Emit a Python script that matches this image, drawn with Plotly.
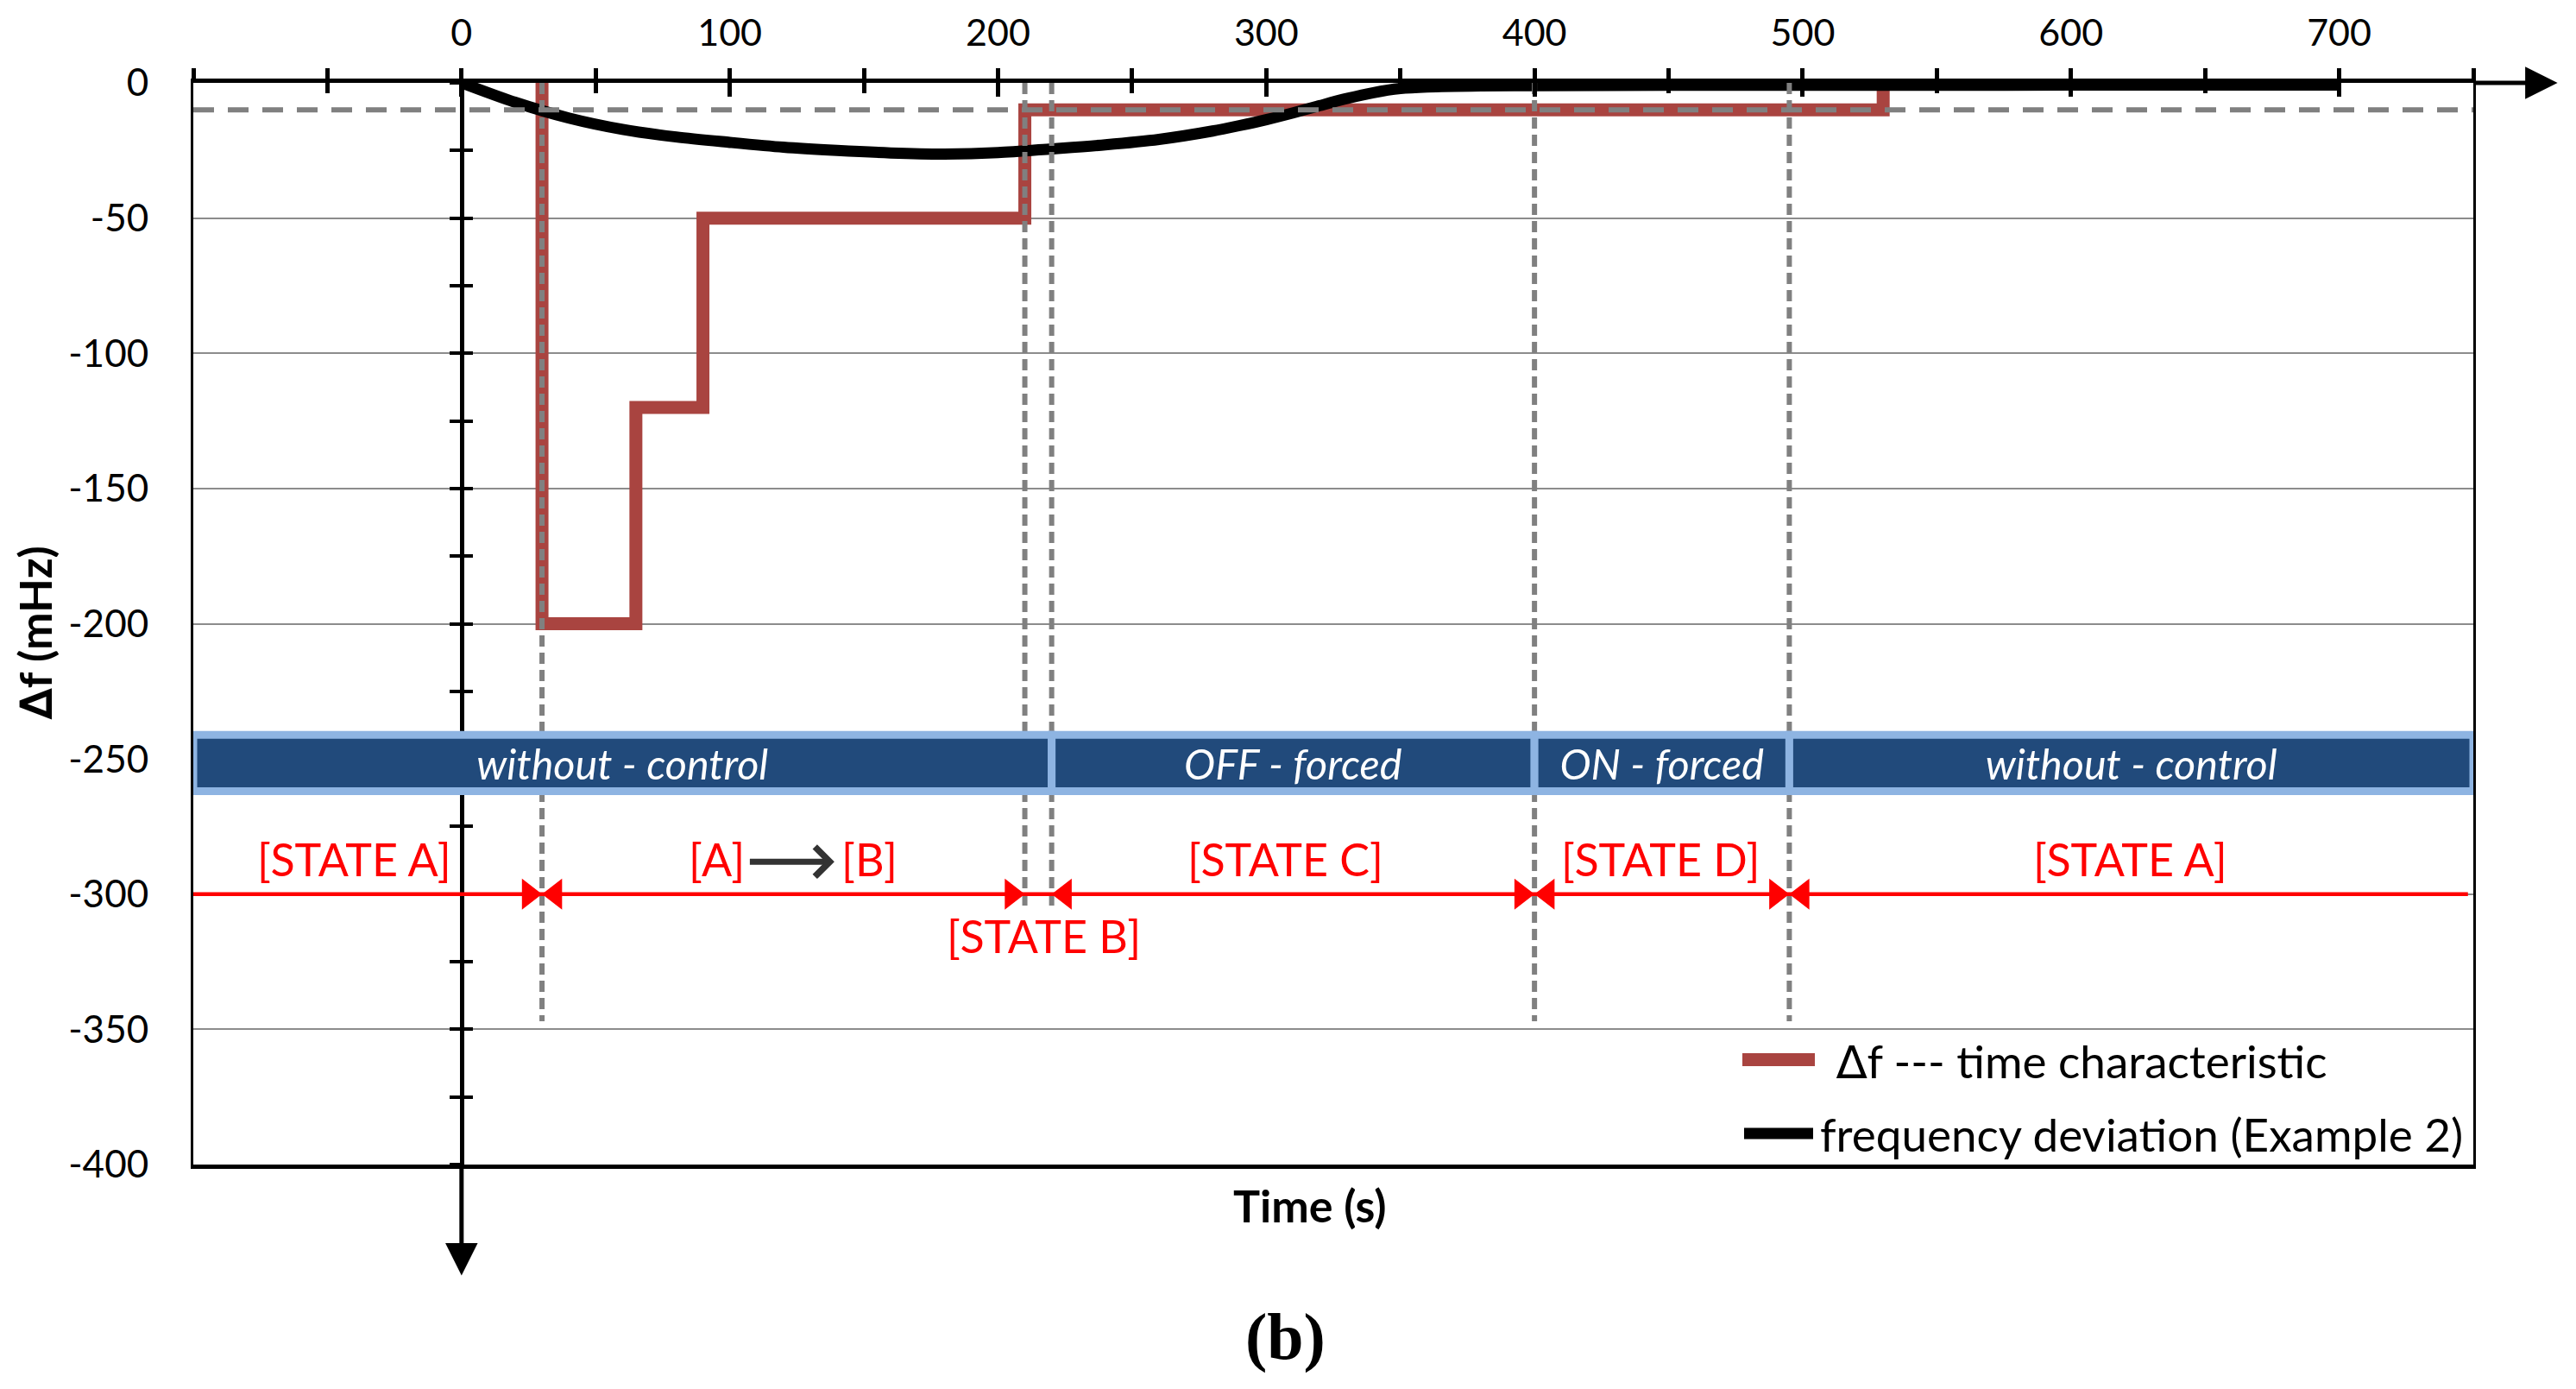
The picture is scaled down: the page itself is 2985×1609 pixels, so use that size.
import plotly.graph_objects as go

# ---------------- data ----------------
x_range = [-100, 750]
y_range = [-400, 0]
x_tick_vals = [0, 100, 200, 300, 400, 500, 600, 700]
x_tick_text = ["0", "100", "200", "300", "400", "500", "600", "700"]
x_minor_vals = [-100, -50, 50, 150, 250, 350, 450, 550, 650, 750]
y_tick_vals = [0, -50, -100, -150, -200, -250, -300, -350, -400]
y_tick_text = ["0", "-50", "-100", "-150", "-200", "-250", "-300", "-350", "-400"]

# delta-f time characteristic (step changes)
step_times = [30, 65, 90, 210, 530]
step_levels = [-200, -120, -50, -10, 0]

# frequency deviation (Example 2)
curve_t = [0, 20, 40, 60, 80, 100, 120, 140, 160, 180, 200, 220, 240, 260, 280,
           290, 300, 310, 320, 330, 340, 350, 360, 380, 400, 450, 500, 550, 600,
           650, 700]
curve_df = [0, -7.2, -13.0, -17.2, -20.0, -22.0, -23.8, -25.0, -25.9, -26.3, -25.8,
            -24.4, -22.9, -20.9, -17.8, -15.8, -13.6, -11.1, -8.4, -5.8, -3.6,
            -2.1, -1.5, -1.1, -1.0, -0.9, -0.9, -0.9, -0.8, -0.8, -0.8]

threshold_level = -10
switch_times = [30, 210, 220, 400, 495]
switch_line_ends = [-347, -305, -305, -347, -347]

band_edges = [-100, 220, 400, 495, 750]
band_labels = ["without - control", "OFF - forced", "ON - forced", "without - control"]
band_center = -251.5
band_height = 20.8

state_level = -300
state_span = [-100, 748]
arrow_in_times = [30, 210, 400, 495]    # arrowheads pointing right
arrow_out_times = [30, 220, 400, 495]   # arrowheads pointing left
state_labels = ["[STATE A]", "[STATE C]", "[STATE D]", "[STATE A]"]
state_label_t = [-40, 307, 447, 622]
state_b_label = "[STATE B]"
legend_labels = ["\u2206f --- time characteristic", "frequency deviation (Example 2)"]

# ---------------- layout constants ----------------
FIG_W, FIG_H = 2969, 1593
ML, MR, MT, MB = 216, 111, 88, 252
PW = FIG_W - ML - MR
PH = FIG_H - MT - MB
FONT = "Lato, 'DejaVu Sans', sans-serif"
RED_STEP = "#A94440"
BAND_DARK = "#214A7B"
BAND_LIGHT = "#8EB4E2"
GRID = "#8c8c8c"
DASH = "#808080"


def px_x(px):
    return (px - 8 - ML) / PW


def px_y(py):
    return 1 - (py - 8 - MT) / PH


px_per_t = PW / (x_range[1] - x_range[0])

fig = go.Figure()

# red step characteristic
fig.add_trace(go.Scatter(
    x=[step_times[0]] + step_times, y=[0] + step_levels, mode="lines",
    line=dict(color=RED_STEP, width=15, shape="hv"), hoverinfo="skip"))

# black frequency deviation curve
fig.add_trace(go.Scatter(
    x=curve_t, y=curve_df, mode="lines",
    line=dict(color="black", width=13, shape="spline", smoothing=0.8), hoverinfo="skip"))

# dashed threshold line
fig.add_trace(go.Scatter(
    x=x_range, y=[threshold_level, threshold_level], mode="lines",
    line=dict(color=DASH, width=6, dash="24px,16px"), hoverinfo="skip"))

# dashed vertical switching lines
vx, vy = [], []
for t, e in zip(switch_times, switch_line_ends):
    vx += [t, t, None]
    vy += [0, e, None]
fig.add_trace(go.Scatter(
    x=vx, y=vy, mode="lines",
    line=dict(color=DASH, width=6, dash="13px,7px"), hoverinfo="skip"))

# band (on overlaying x2 so it is drawn above the dashed lines)
starts = band_edges[:-1]
widths = [b - a for a, b in zip(band_edges[:-1], band_edges[1:])]
fig.add_trace(go.Bar(
    x=widths, base=starts, y=[band_center] * len(starts), width=band_height,
    orientation="h", xaxis="x2", yaxis="y",
    marker=dict(color=BAND_DARK, line=dict(color=BAND_LIGHT, width=9)),
    text=["<i>" + s + "</i>" for s in band_labels], textposition="inside",
    insidetextanchor="middle", constraintext="none",
    textfont=dict(family=FONT, size=48.5, color="white"), hoverinfo="skip"))

# state line
fig.add_trace(go.Scatter(
    x=state_span, y=[state_level, state_level], mode="lines", xaxis="x2",
    line=dict(color="#FF0000", width=4.5), hoverinfo="skip"))

MS = 31
off = (MS / 2) / px_per_t
fig.add_trace(go.Scatter(
    x=[t - off for t in arrow_in_times], y=[state_level] * len(arrow_in_times),
    mode="markers", xaxis="x2",
    marker=dict(symbol="triangle-right", size=MS, color="#FF0000"), hoverinfo="skip"))
fig.add_trace(go.Scatter(
    x=[t + off for t in arrow_out_times], y=[state_level] * len(arrow_out_times),
    mode="markers", xaxis="x2",
    marker=dict(symbol="triangle-left", size=MS, color="#FF0000"), hoverinfo="skip"))

# dummy traces for the axis at t = 0
fig.add_trace(go.Scatter(x=[None], y=[None], yaxis="y2", hoverinfo="skip"))
fig.add_trace(go.Scatter(x=[None], y=[None], yaxis="y3", hoverinfo="skip"))

free_pos = (0 - x_range[0]) / (x_range[1] - x_range[0])

fig.update_layout(
    width=FIG_W, height=FIG_H, showlegend=False,
    margin=dict(l=ML, r=MR, t=MT, b=MB, pad=0, autoexpand=False),
    plot_bgcolor="white", paper_bgcolor="white",
    xaxis=dict(range=x_range, side="top", showline=True, linecolor="black", linewidth=5,
               mirror=True, ticks="outside", ticklen=12, tickwidth=5, tickcolor="black",
               tickmode="array", tickvals=x_tick_vals, ticktext=x_tick_text,
               tickfont=dict(family=FONT, size=43, color="black"), ticklabelstandoff=9,
               showgrid=False, zeroline=False, layer="above traces", automargin=False,
               minor=dict(tickmode="array", tickvals=x_minor_vals, ticks="outside",
                          ticklen=12, tickwidth=5, tickcolor="black", showgrid=False)),
    xaxis2=dict(range=x_range, overlaying="x", side="top", showline=False,
                ticks="inside", ticklen=16, tickwidth=5, tickcolor="black",
                tickmode="array", tickvals=x_tick_vals, showticklabels=False,
                showgrid=False, zeroline=False, automargin=False,
                minor=dict(tickmode="array", tickvals=x_minor_vals, ticks="inside",
                           ticklen=12, tickwidth=5, tickcolor="black", showgrid=False)),
    yaxis=dict(range=y_range, showline=True, linecolor="black", linewidth=3, mirror=True,
               ticks="", tickmode="array", tickvals=y_tick_vals, ticktext=y_tick_text,
               tickfont=dict(family=FONT, size=44, color="black"), ticklabelstandoff=40,
               showgrid=True, gridcolor=GRID, gridwidth=1.5, zeroline=False,
               layer="below traces", automargin=False),
    yaxis2=dict(range=y_range, overlaying="y", anchor="free", position=free_pos, side="left",
                showline=True, linecolor="black", linewidth=5, ticks="outside", ticklen=12,
                tickwidth=4, tickcolor="black", tick0=0, dtick=25, showticklabels=False,
                showgrid=False, zeroline=False, layer="below traces", automargin=False),
    yaxis3=dict(range=y_range, overlaying="y", anchor="free", position=free_pos, side="left",
                showline=False, ticks="inside", ticklen=12, tickwidth=4, tickcolor="black",
                tick0=0, dtick=25, showticklabels=False, showgrid=False, zeroline=False,
                layer="below traces", automargin=False),
)

ann = []
# axis arrows
ann.append(dict(x=781.4, y=0, ax=x_range[1], ay=0, xref="x", yref="y", axref="x", ayref="y",
                text="", showarrow=True, arrowhead=2, arrowwidth=5, arrowsize=1.5,
                arrowcolor="black"))
ann.append(dict(x=0, y=-441, ax=0, ay=y_range[0], xref="x", yref="y", axref="x", ayref="y",
                text="", showarrow=True, arrowhead=2, arrowwidth=5, arrowsize=1.5,
                arrowcolor="black"))
# state labels
RF = dict(family=FONT, size=52, color="#FF0000")
for lab, t in zip(state_labels, state_label_t):
    ann.append(dict(x=t, y=-287, xref="x", yref="y", text=lab, showarrow=False, font=RF,
                    xanchor="center", yanchor="middle"))
ann.append(dict(x=217, y=-315.5, xref="x", yref="y", text=state_b_label, showarrow=False,
                font=RF, xanchor="center", yanchor="middle"))
ann.append(dict(x=95, y=-287, xref="x", yref="y", text="[A]", showarrow=False, font=RF,
                xanchor="center", yanchor="middle"))
ann.append(dict(x=152, y=-287, xref="x", yref="y", text="[B]", showarrow=False, font=RF,
                xanchor="center", yanchor="middle"))
ann.append(dict(x=139, y=-288, ax=107, ay=-288, xref="x", yref="y", axref="x", ayref="y",
                text="", showarrow=True, arrowhead=4, arrowwidth=7, arrowsize=0.95,
                arrowcolor="#333333"))
# titles
ann.append(dict(x=px_x(39.5), y=px_y(733), xref="paper", yref="paper", text="<b>\u2206f (mHz)</b>",
                textangle=-90, showarrow=False, xanchor="center", yanchor="middle",
                font=dict(family=FONT, size=52, color="black")))
ann.append(dict(x=px_x(1517.5), y=px_y(1396), xref="paper", yref="paper", text="<b>Time (s)</b>",
                showarrow=False, xanchor="center", yanchor="middle",
                font=dict(family=FONT, size=52, color="black")))
ann.append(dict(x=px_x(1489.5), y=px_y(1548), xref="paper", yref="paper", text="<b>(b)</b>",
                showarrow=False, xanchor="center", yanchor="middle",
                font=dict(family="'Liberation Serif', serif", size=76, color="black")))
# legend texts
LF = dict(family=FONT, size=53, color="black")
ann.append(dict(x=px_x(2125), y=px_y(1228), xref="paper", yref="paper", text=legend_labels[0],
                xanchor="left", yanchor="middle", showarrow=False, font=LF))
ann.append(dict(x=px_x(2107), y=px_y(1313), xref="paper", yref="paper", text=legend_labels[1],
                xanchor="left", yanchor="middle", showarrow=False, font=LF))
fig.update_layout(annotations=ann)

# legend swatches
fig.add_shape(type="line", xref="paper", yref="paper", x0=px_x(2019), x1=px_x(2103),
              y0=px_y(1227.5), y1=px_y(1227.5), line=dict(color=RED_STEP, width=15))
fig.add_shape(type="line", xref="paper", yref="paper", x0=px_x(2021), x1=px_x(2101),
              y0=px_y(1313), y1=px_y(1313), line=dict(color="black", width=13))

fig.write_html("out.html")
